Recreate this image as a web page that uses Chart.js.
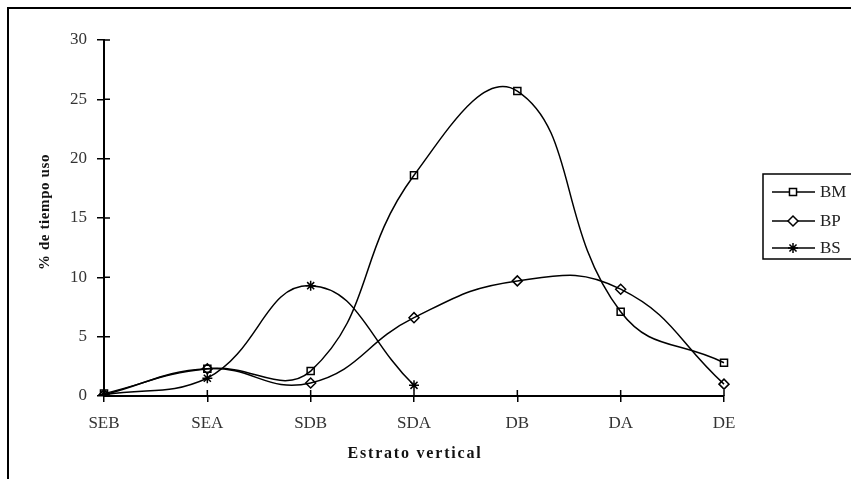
<!DOCTYPE html>
<html>
<head>
<meta charset="utf-8">
<script src="https://cdn.jsdelivr.net/npm/chart.js@4/dist/chart.umd.min.js"></script>
<style>
  html, body { margin: 0; padding: 0; background: #fff; }
  #wrap { width: 851px; height: 479px; position: relative; }
</style>
</head>
<body>
<div id="wrap"><canvas id="chart" width="851" height="479"></canvas></div>
<script>
// categories and series
var estratos = ['SEB', 'SEA', 'SDB', 'SDA', 'DB', 'DA', 'DE'];
var bm = [0.2, 2.3, 2.1, 18.6, 25.7, 7.1, 2.8];
var bp = [0.1, 2.3, 1.1, 6.6, 9.7, 9.0, 1.0];
var bs = [0.1, 1.5, 9.3, 0.9, null, null, null];

var tituloX = 'Estrato vertical';
var tituloY = '% de tiempo uso';

var serif = "'Liberation Serif', 'DejaVu Serif', serif";

// frame, titles, legend box, crossing tick marks
var extras = {
    id: 'extras',
    beforeDraw: function(chart) {
        var c = chart.ctx;
        c.save();
        c.fillStyle = '#fff';
        c.fillRect(0, 0, chart.width, chart.height);
        c.strokeStyle = '#000';
        c.lineWidth = 2;
        c.strokeRect(8, 8, chart.width + 10, chart.height + 10);
        c.restore();
    },
    afterDraw: function(chart) {
        var c = chart.ctx;
        var x = chart.scales.x, y = chart.scales.y;
        c.save();
        c.strokeStyle = '#000';
        c.lineWidth = 1.5;
        c.beginPath();
        y.ticks.forEach(function(t, i) {
            var py = y.getPixelForTick(i);
            c.moveTo(x.left, py); c.lineTo(x.left + 6, py);
        });
        x.ticks.forEach(function(t, i) {
            var px = x.getPixelForTick(i);
            c.moveTo(px, y.bottom); c.lineTo(px, y.bottom - 6);
        });
        c.stroke();

        // axis titles
        c.fillStyle = '#111';
        c.textAlign = 'center';
        c.textBaseline = 'middle';
        c.font = 'bold 16px ' + serif;
        c.letterSpacing = '1.8px';
        c.fillText(tituloX, (x.left + x.right) / 2 + 1, 454);
        c.save();
        c.translate(45, 212);
        c.rotate(-Math.PI / 2);
        c.font = 'bold 15px ' + serif;
        c.letterSpacing = '0.6px';
        c.fillText(tituloY, 0, 0);
        c.restore();
        c.letterSpacing = '0px';

        // legend
        c.lineWidth = 1.5;
        c.strokeRect(763, 174, 100, 85);
        var rows = [192, 221, 248];
        c.textAlign = 'left';
        chart.data.datasets.forEach(function(ds, i) {
            var ly = rows[i];
            c.beginPath();
            c.moveTo(772, ly); c.lineTo(815, ly);
            c.lineWidth = 1.5;
            c.strokeStyle = '#000';
            c.stroke();
            c.fillStyle = '#fff';
            Chart.helpers.drawPoint(c, {
                pointStyle: ds.pointStyle, radius: ds.pointRadius, rotation: 0, borderWidth: 1.5
            }, 793, ly);
            c.fillStyle = '#222';
            c.font = '17px ' + serif;
            c.fillText(ds.label, 820, ly + 1);
        });
        c.restore();
    }
};

new Chart(document.getElementById('chart').getContext('2d'), {
    type: 'line',
    data: {
        labels: estratos,
        datasets: [
            { label: 'BM', data: bm, pointStyle: 'rect', pointRadius: 5 },
            { label: 'BP', data: bp, pointStyle: 'rectRot', pointRadius: 5 },
            { label: 'BS', data: bs, pointStyle: 'star', pointRadius: 5 }
        ].map(function(d) {
            d.borderColor = '#000';
            d.backgroundColor = '#fff';
            d.borderWidth = 1.5;
            d.pointBorderColor = '#000';
            d.pointBackgroundColor = 'rgba(255,255,255,0)';
            d.pointBorderWidth = 1.5;
            d.tension = 0.45;
            d.spanGaps = false;
            return d;
        })
    },
    options: {
        responsive: false,
        animation: false,
        layout: { padding: { left: 20, right: 127, top: 40, bottom: 10 } },
        plugins: { legend: { display: false }, tooltip: { enabled: false } },
        scales: {
            x: {
                offset: false,
                grid: { drawOnChartArea: false, drawTicks: true, tickLength: 6, color: '#000', lineWidth: 1.5 },
                border: { color: '#000', width: 2 },
                ticks: { color: '#333', font: { family: serif, size: 17 }, padding: 11, maxRotation: 0 },
                title: { display: false },
                afterFit: function(s) { s.height = 73; }
            },
            y: {
                min: 0, max: 30,
                ticks: { stepSize: 5, color: '#333', font: { family: serif, size: 17 }, padding: 10 },
                grid: { drawOnChartArea: false, drawTicks: true, tickLength: 7, color: '#000', lineWidth: 1.5 },
                border: { color: '#000', width: 2 },
                title: { display: false },
                afterFit: function(s) { s.width = 84; }
            }
        }
    },
    plugins: [extras]
});
</script>
</body>
</html>
